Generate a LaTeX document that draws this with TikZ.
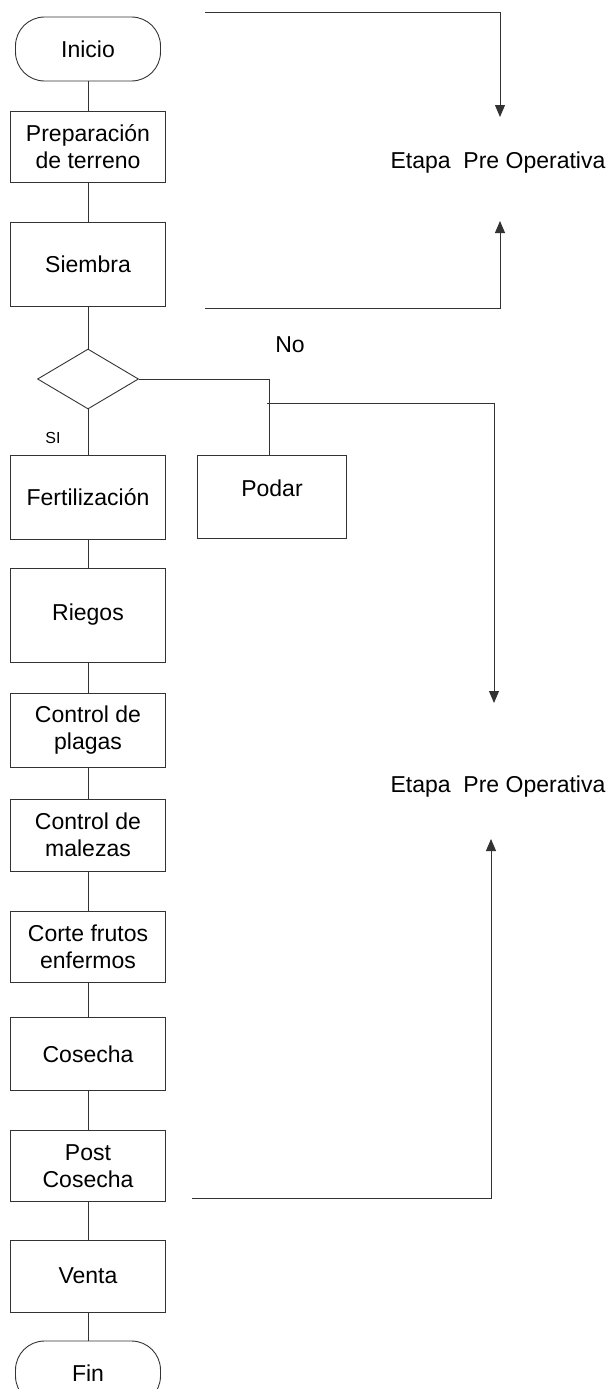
\documentclass[tikz,border=0pt]{standalone}
\usepackage{fontspec}
\setmainfont{Liberation Sans}
\usetikzlibrary{arrows.meta,shapes.geometric,positioning}

\begin{document}
\begin{tikzpicture}[x=1pt,y=-1pt]
\tikzset{
  basic/.style    = {draw=black!80, line width=0.9pt, align=center, inner sep=0pt,
                     font=\fontsize{23}{27}\selectfont},
  terminal/.style = {basic, rectangle, rounded corners=29pt,
                     minimum width=145pt, minimum height=64pt},
  process/.style  = {basic, rectangle, minimum width=155pt},
  decision/.style = {basic, diamond, minimum width=101pt, minimum height=60pt},
  etapa/.style    = {font=\fontsize{23}{27}\selectfont},
  link/.style     = {draw=black!80, line width=0.9pt},
  >={Triangle[width=10pt,length=12pt]}
}
\useasboundingbox (0,0) rectangle (615,1389);
\clip (0,0) rectangle (615,1389);

% main column
\node[terminal] (inicio) at (88,49) {Inicio};
\node[process, minimum height=71pt] (prep) at (88,147) {Preparación\\de terreno};
\node[process, minimum height=84pt] (siembra) at (88,264) {Siembra};
\node[decision] (dec) at (88,379) {};
\node[process, minimum height=84pt] (fert) at (88,497) {Fertilización};
\node[process, minimum height=94pt] (riegos) at (88,615) {Riegos};
\node[process, minimum height=74pt] (plagas) at (88,730) {Control de\\plagas};
\node[process, minimum height=72pt] (malezas) at (88,835) {Control de\\malezas};
\node[process, minimum height=71pt] (corte) at (88,947) {Corte frutos\\enfermos};
\node[process, minimum height=73pt] (cosecha) at (88,1054) {Cosecha};
\node[process, minimum height=71pt] (post) at (88,1166) {Post\\Cosecha};
\node[process, minimum height=72pt] (venta) at (88,1276) {Venta};
\node[terminal] (fin) at (88,1373) {Fin};

% branch
\node[process, minimum width=149pt, minimum height=83pt, text depth=18pt]
  (podar) at (272,497) {Podar};
\node[etapa] (no) at (290,345) {No};
\node[font=\fontsize{16}{18}\selectfont] (si) at (53,438) {SI};

\foreach \a/\b in {inicio/prep, prep/siembra, siembra/dec, dec/fert, fert/riegos,
  riegos/plagas, plagas/malezas, malezas/corte, corte/cosecha, cosecha/post,
  post/venta, venta/fin}
  \draw[link] (\a.south) -- (\b.north);
\draw[link] (dec.east) -| ([xshift=-3pt]podar.north);

% stages
\node[etapa] (etapa1) at (498,163) {Etapa\ \ Pre Operativa};
\node[etapa] (etapa2) at (498,787) {Etapa\ \ Pre Operativa};

\coordinate (s1a) at (205,12);
\coordinate (s1b) at (500,117);
\coordinate (s1c) at (205,308);
\coordinate (s1d) at (500,221);
\coordinate (s2a) at (267,403);
\coordinate (s2b) at (494,703);
\coordinate (s2c) at (192,1198);
\coordinate (s2d) at (491,839);

\draw[link, ->] (s1a) -| (s1b);
\draw[link, ->] (s1c) -| (s1d);
\draw[link, ->] (s2a) -| (s2b);
\draw[link, ->] (s2c) -| (s2d);
\end{tikzpicture}
\end{document}
